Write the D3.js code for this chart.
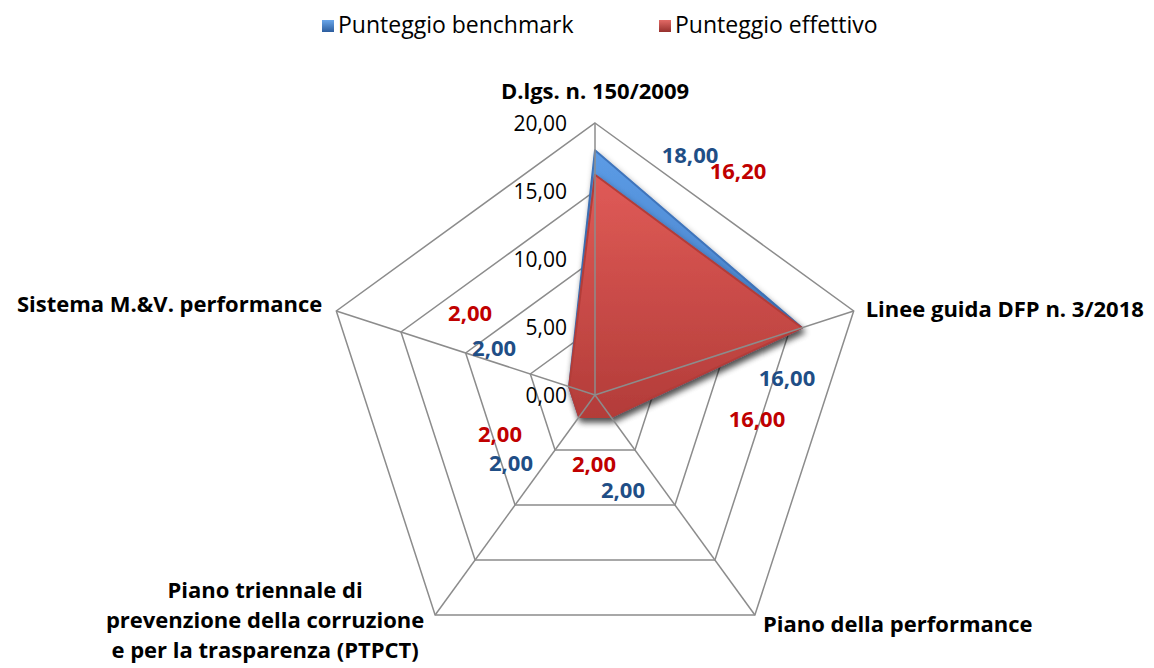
<!DOCTYPE html>
<html>
<head>
<meta charset="utf-8">
<script src="https://cdn.jsdelivr.net/npm/d3@7"></script>
<style>
  body { margin: 0; background: #fff; }
  text { font-family: "Open Sans", Lato, sans-serif; }
</style>
</head>
<body>
<svg id="chart"></svg>
<script>
// data
const categories = [
    ["D.lgs. n. 150/2009"],
    ["Linee guida DFP n. 3/2018"],
    ["Piano della performance"],
    ["Piano triennale di", "prevenzione della corruzione", "e per la trasparenza (PTPCT)"],
    ["Sistema M.&V. performance"]
];
const seriesNames = ["Punteggio benchmark", "Punteggio effettivo"];
const benchmark = [18.00, 16.00, 2.00, 2.00, 2.00];
const effettivo = [16.20, 16.00, 2.00, 2.00, 2.00];
const ticks = [0, 5, 10, 15, 20];

// label offsets from their point (dx, dy), per series
const labelOffsets = [
    [[95, 7], [-15, 52], [12, 75], [-68, 48], [-75, -36]],
    [[143, -2], [-45, 93], [-17, 49], [-79, 19], [-99, -71]]
];

const width = 1154, height = 668;
const cx = 595, cy = 395, R = 272;

const svg = d3.select("#chart").attr("width", width).attr("height", height);
const defs = svg.append("defs");

function grad(id, c1, c2) {
    const g = defs.append("linearGradient").attr("id", id)
        .attr("x1", 0).attr("y1", 0).attr("x2", 0).attr("y2", 1);
    g.append("stop").attr("offset", "0%").attr("stop-color", c1);
    g.append("stop").attr("offset", "100%").attr("stop-color", c2);
}
grad("gBlue", "#5c9ce6", "#3f74bb");
grad("gRed", "#e05b57", "#b33c39");
grad("gBlueIcon", "#6aa6ea", "#2c5d9e");
grad("gRedIcon", "#e26a66", "#96302d");

const shadow = defs.append("filter").attr("id", "shadow")
    .attr("x", "-20%").attr("y", "-20%").attr("width", "140%").attr("height", "140%");
shadow.append("feDropShadow").attr("dx", 2).attr("dy", 4)
    .attr("stdDeviation", 3).attr("flood-color", "#000").attr("flood-opacity", 0.45);

const rScale = d3.scaleLinear().domain([0, 20]).range([0, R]);
const angle = i => i * 2 * Math.PI / categories.length;
const px = (i, v) => cx + rScale(v) * Math.sin(angle(i));
const py = (i, v) => cy - rScale(v) * Math.cos(angle(i));

const g = svg.append("g").attr("transform", `translate(${cx},${cy})`);

const radial = d3.lineRadial()
    .angle((d, i) => angle(i))
    .radius(d => rScale(d))
    .curve(d3.curveLinearClosed);

// grid rings
g.append("g").selectAll("path")
    .data(ticks.slice(1))
    .join("path")
    .attr("d", t => radial(categories.map(() => t)))
    .attr("fill", "none")
    .attr("stroke", "#8c8c8c")
    .attr("stroke-width", 1.5);

// series
const series = [
    { values: benchmark, fill: "url(#gBlue)", stroke: "#3f74bb", label: "#1f4e86" },
    { values: effettivo, fill: "url(#gRed)", stroke: "#b33c39", label: "#c00000" }
];

g.append("g").selectAll("path")
    .data(series)
    .join("path")
    .attr("d", s => radial(s.values))
    .attr("fill", s => s.fill)
    .attr("stroke", s => s.stroke)
    .attr("stroke-width", 2)
    .attr("stroke-linejoin", "round")
    .attr("filter", "url(#shadow)");

// spokes (drawn over the areas, as in the original)
g.append("g").selectAll("line")
    .data(categories)
    .join("line")
    .attr("x1", 0).attr("y1", 0)
    .attr("x2", (d, i) => rScale(20) * Math.sin(angle(i)))
    .attr("y2", (d, i) => -rScale(20) * Math.cos(angle(i)))
    .attr("stroke", "#8c8c8c")
    .attr("stroke-width", 1.5);

// tick labels
svg.append("g").selectAll("text")
    .data(ticks)
    .join("text")
    .attr("x", cx - 28)
    .attr("y", t => cy - rScale(t) + 2)
    .attr("text-anchor", "end")
    .attr("dominant-baseline", "middle")
    .attr("font-size", 21)
    .attr("fill", "#000")
    .text(t => d3.format(".2f")(t).replace(".", ","));

// category labels
const catPos = [
    { dx: 0, dy: -30, anchor: "middle" },
    { dx: 12, dy: 0, anchor: "start" },
    { dx: 8, dy: 11, anchor: "start" },
    { dx: -170, dy: -23, anchor: "middle" },
    { dx: -14, dy: -5, anchor: "end" }
];
const catG = svg.append("g");
categories.forEach((lines, i) => {
    const p = catPos[i];
    const t = catG.append("text")
        .attr("x", px(i, 20) + p.dx)
        .attr("y", py(i, 20) + p.dy)
        .attr("text-anchor", p.anchor)
        .attr("dominant-baseline", "middle")
        .attr("font-size", 22)
        .attr("font-weight", "bold")
        .attr("fill", "#000");
    lines.forEach((line, k) => {
        t.append("tspan")
            .attr("x", px(i, 20) + p.dx)
            .attr("dy", k === 0 ? 0 : 30)
            .text(line);
    });
});

// data labels
const fmt = v => d3.format(".2f")(v).replace(".", ",");
series.forEach((s, si) => {
    svg.append("g").selectAll("text")
        .data(s.values)
        .join("text")
        .attr("x", (v, i) => px(i, v) + labelOffsets[si][i][0])
        .attr("y", (v, i) => py(i, v) + labelOffsets[si][i][1])
        .attr("text-anchor", "middle")
        .attr("dominant-baseline", "middle")
        .attr("font-size", 22)
        .attr("font-weight", "bold")
        .attr("fill", s.label)
        .text(fmt);
});

// legend
const legend = svg.append("g");
const legendX = [322, 659];
const icons = ["url(#gBlueIcon)", "url(#gRedIcon)"];
seriesNames.forEach((name, i) => {
    legend.append("rect")
        .attr("x", legendX[i]).attr("y", 20)
        .attr("width", 12).attr("height", 12)
        .attr("fill", icons[i]);
    legend.append("text")
        .attr("x", legendX[i] + 16).attr("y", 27)
        .attr("dominant-baseline", "middle")
        .attr("font-size", 23)
        .attr("fill", "#000")
        .text(name);
});
</script>
</body>
</html>
